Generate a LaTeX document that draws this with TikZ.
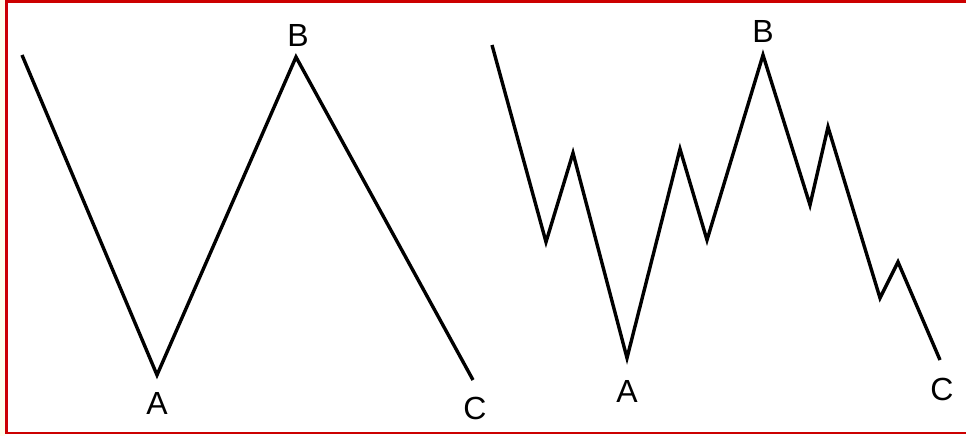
\documentclass[tikz,border=0pt]{standalone}
\usepackage{fontspec}
\setmainfont{Liberation Sans}
\begin{document}
\begin{tikzpicture}[x=1pt,y=-1pt,
  wave/.style={line width=3.4pt,line join=miter,black},
  lbl/.style={font=\fontsize{32}{32}\selectfont,inner sep=0pt}]
\useasboundingbox (0,0) rectangle (966,436);
\fill[white] (0,0) rectangle (966,436);
\fill[yellow!8] (0,0) rectangle (5,436);
\draw[red!80!black,line width=2.5pt] (966,1.5) -- (6.5,1.5) -- (6.5,433) -- (966,433);
% left
\coordinate (l0) at (22,55);
\coordinate (lA) at (157,375);
\coordinate (lB) at (296,57);
\coordinate (lC) at (473,380);
\draw[wave] (l0) -- (lA) -- (lB) -- (lC);
\node[lbl] (tlA) at (157,403) {A};
\node[lbl] (tlB) at (298,35) {B};
\node[lbl] (tlC) at (475,408) {C};
% right
\coordinate (r0) at (492,45);
\coordinate (r1) at (546,242);
\coordinate (r2) at (573,153);
\coordinate (rA) at (627,358);
\coordinate (r3) at (680,149);
\coordinate (r4) at (707,240);
\coordinate (rB) at (763,55);
\coordinate (r5) at (810,205);
\coordinate (r6) at (828,127);
\coordinate (r7) at (880,298);
\coordinate (r8) at (898,262);
\coordinate (rC) at (940,360);
\draw[wave] (r0) -- (r1) -- (r2) -- (rA) -- (r3) -- (r4) -- (rB) -- (r5) -- (r6) -- (r7) -- (r8) -- (rC);
\node[lbl] (trA) at (627,391) {A};
\node[lbl] (trB) at (763,31) {B};
\node[lbl] (trC) at (942,389) {C};
\end{tikzpicture}
\end{document}
